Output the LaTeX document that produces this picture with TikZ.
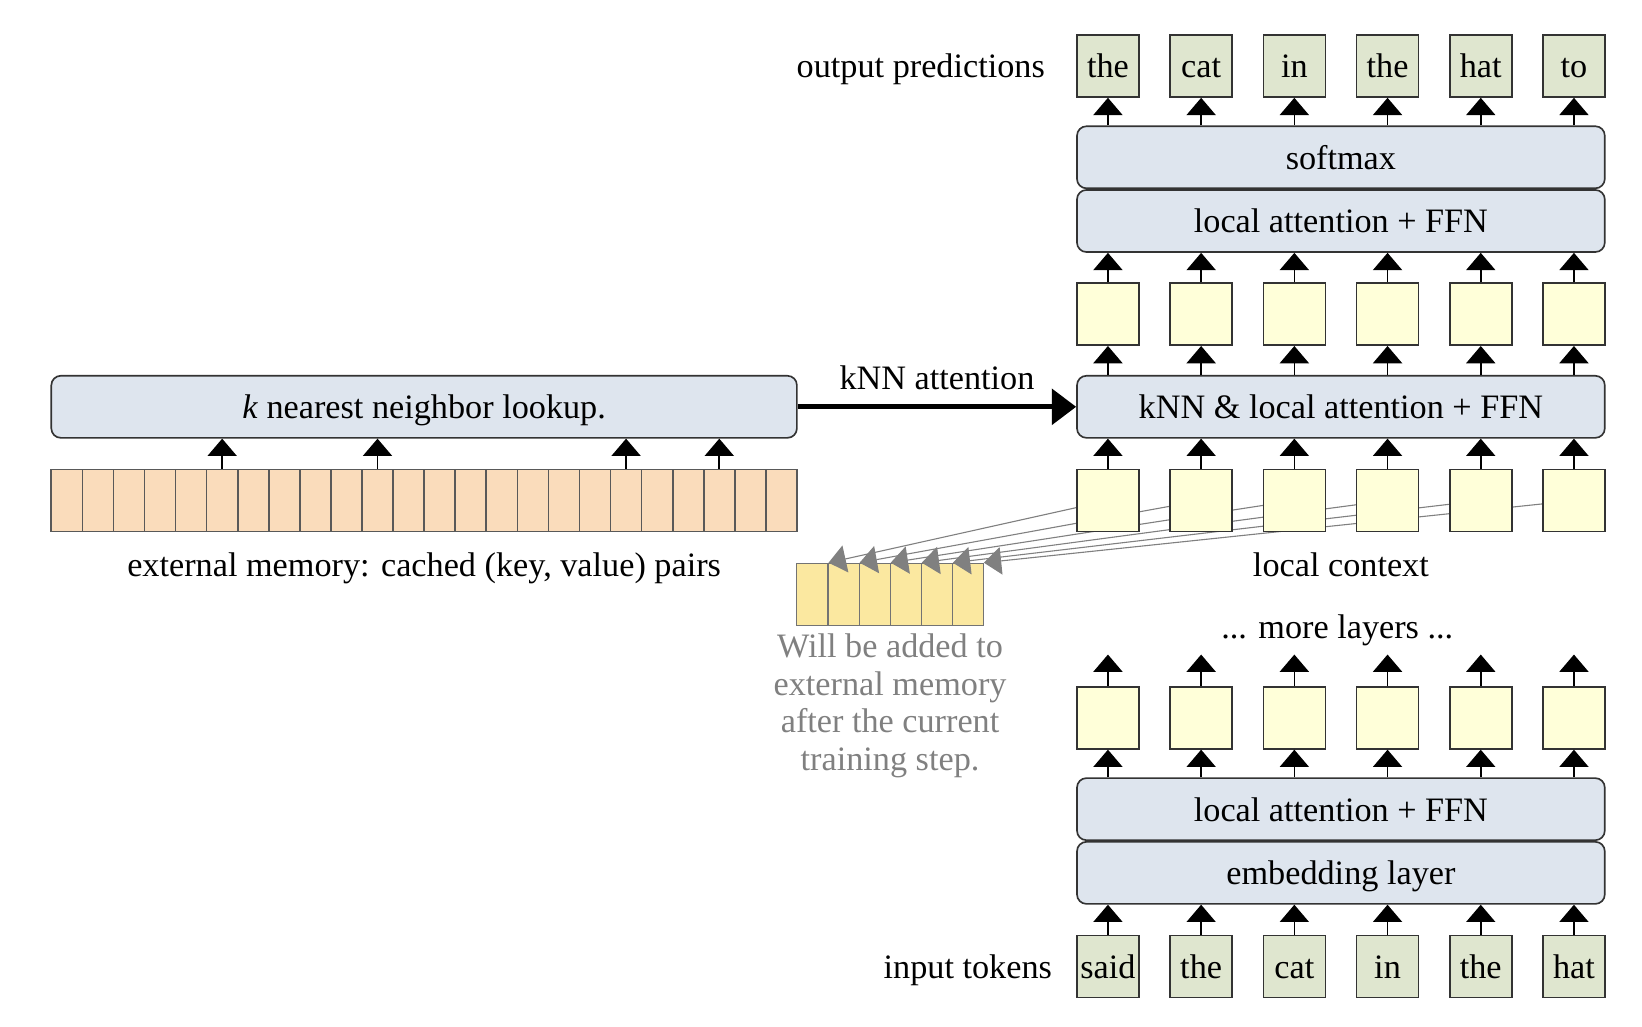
\documentclass[tikz,border=0pt]{standalone}
\usepackage{fontspec}
\setmainfont{Liberation Serif}
\usepackage{xcolor}
\usepackage{tikz}
\usetikzlibrary{arrows.meta, positioning, backgrounds}
\definecolor{tokgreen}{HTML}{DFE6CF}
\definecolor{layerblue}{HTML}{DEE5EE}
\definecolor{hidyellow}{HTML}{FFFFD9}
\definecolor{mempeach}{HTML}{FADCBB}
\definecolor{newyellow}{HTML}{FBE8A0}
\tikzset{caption/.style={text height=1em, text depth=0.14em},
	token/.style={caption, draw=black!80, fill=tokgreen, minimum size=0.79cm, inner sep=0pt},
	hidden/.style={draw=black!80, fill=hidyellow, minimum size=0.79cm, inner sep=0pt},
	layer/.style={caption, draw=black!80, fill=layerblue, rounded corners=0.12cm,
		minimum width=6.72cm, minimum height=0.79cm, inner sep=0pt},
	memcell/.style={draw=black!65, fill=mempeach, minimum width=0.3956cm,
		minimum height=0.79cm, inner sep=0pt},
	newcell/.style={draw=black!55, fill=newyellow, minimum width=0.3956cm,
		minimum height=0.79cm, inner sep=0pt},
	feed/.style={gray, line width=0.4pt, -{Triangle[length=0.22cm, width=0.35cm]}},
	knnarrow/.style={line width=1.8pt, -{Triangle[length=0.31cm, width=0.45cm]}}}

\begin{document}
\begin{tikzpicture}[
		> = {Triangle[length=0.22cm, width=0.37cm]}, % arrow head style
		line width = 0.6pt, % line style
		font = \fontsize{12.4}{14.9}\selectfont, % text size
	]
	\useasboundingbox (0,0) rectangle (20.907,13.067);
	% tokens and hidden states, one column per position
	\foreach \w [count=\i] in {said,the,cat,in,the,hat}
		\node[token] (in-\i) at ({14.107+1.1867*(\i-1)}, 0.76) {\w};
	\foreach \w [count=\i] in {the,cat,in,the,hat,to}
		\node[token] (out-\i) at ({14.107+1.1867*(\i-1)}, 12.227) {\w};
	\foreach \i in {1,...,6} {
		\node[hidden] (h3-\i) at ({14.107+1.1867*(\i-1)}, 3.927) {};
		\node[hidden] (lc-\i) at ({14.107+1.1867*(\i-1)}, 6.693) {};
		\node[hidden] (h1-\i) at ({14.107+1.1867*(\i-1)}, 9.067) {};
		\coordinate[above=0.4cm of h3-\i] (t-\i);
	}
	% layers
	\node[layer] (emb) at (17.073, 1.953) {embedding layer};
	\node[layer, above=0pt of emb] (lowatt) {local attention + FFN};
	\node[layer] (knn) at (17.073, 7.887) {kNN \& local attention + FFN};
	\node[layer] (topatt) at (17.073, 10.253) {local attention + FFN};
	\node[layer, above=0pt of topatt] (softmax) {softmax};
	% labels
	\node[caption, left=0.27cm of out-1] (outlabel) {output predictions};
	\node[caption, left=0.18cm of in-1] (inlabel) {input tokens};
	\node[caption] (lclabel) at (17.073, 5.88) {local context};
	\node[caption] (morelabel) at (17.027, 5.093) {... more layers ...};
	% external memory
	\node[layer, minimum width=9.493cm] (lookup) at (5.4, 7.887) {\textit{k} nearest neighbor lookup.};
	\foreach \i in {1,...,24}
		\node[memcell] (m-\i) at ({0.653+0.3956*(\i-0.5)}, 6.693) {};
	\node[caption] (memlabel) at (5.4, 5.88) {external memory: cached (key, value) pairs};
	\foreach \i in {6,11,19,22}
		\draw[->] (m-\i.north) -- (m-\i.north |- lookup.south);
	\draw[knnarrow] (lookup) -- node[above=0.07cm] {kNN attention} (knn);
	% new keys and values
	\begin{scope}[on background layer]
		\foreach \i in {1,...,6}
			\node[newcell] (new-\i) at ({10.147+0.3956*(\i-0.5)}, 5.5) {};
		\foreach \i in {1,...,6}
			\draw[feed] (lc-\i.center) -- (new-\i.north east);
	\end{scope}
	\node[text=gray, align=center, font=\fontsize{12.4}{13.7}\selectfont] (note) at (11.333, 4.08)
		{Will be added to\\external memory\\after the current\\training step.};
	% arrows
	\foreach \i in {1,...,6} {
		\draw[->] (in-\i.north) -- (in-\i.north |- emb.south);
		\draw[->] (h3-\i |- lowatt.north) -- (h3-\i.south);
		\draw[->] (h3-\i.north) -- (t-\i);
		\draw[->] (lc-\i.north) -- (lc-\i.north |- knn.south);
		\draw[->] (h1-\i |- knn.north) -- (h1-\i.south);
		\draw[->] (h1-\i.north) -- (h1-\i.north |- topatt.south);
		\draw[->] (out-\i |- softmax.north) -- (out-\i.south);
	}
\end{tikzpicture}
\end{document}
